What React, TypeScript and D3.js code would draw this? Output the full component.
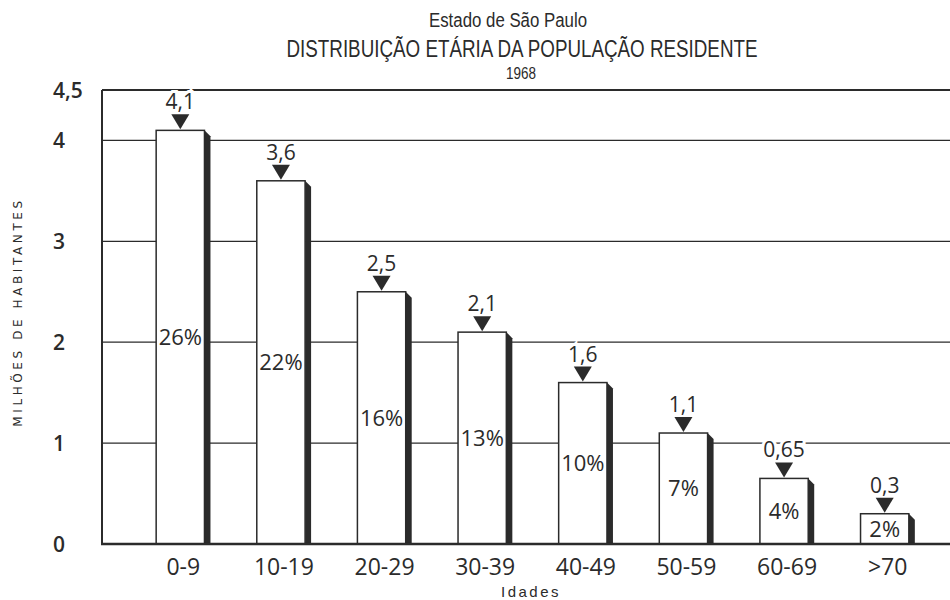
import React from 'react'
import { scaleBand, scaleLinear } from 'd3'

// faixas etárias e valores (milhões de habitantes)
const categories = ['0-9', '10-19', '20-29', '30-39', '40-49', '50-59', '60-69', '>70']
const values = [4.1, 3.6, 2.5, 2.1, 1.6, 1.1, 0.65, 0.3]
const valueLabels = ['4,1', '3,6', '2,5', '2,1', '1,6', '1,1', '0,65', '0,3']
const percentLabels = ['26%', '22%', '16%', '13%', '10%', '7%', '4%', '2%']
const yTicks = [0, 1, 2, 3, 4, 4.5]
const yTickLabels = ['0', '1', '2', '3', '4', '4,5']
const gridValues = [1, 2, 3, 4]

const W = 950
const H = 600
const left = 102
const right = 950
const ink = '#2b2b2b'
const numFont = '"Open Sans", "DejaVu Sans", sans-serif'
const narrowFont = '"Liberation Sans", "DejaVu Sans", sans-serif'

function App() {
  const y = scaleLinear().domain([0, 4.5]).range([544, 90])
  const x = scaleBand<string>()
    .domain(categories)
    .range([130, 935])
    .paddingInner(0.52)
    .paddingOuter(0.26)
  const bw = x.bandwidth()
  const shadow = 6

  return (
    <svg width={W} height={H} style={{ position: 'absolute', left: 0, top: 0, background: '#fff' }}>
      {/* título, comprimido para imitar a fonte condensada */}
      <g fill={ink} fontFamily={narrowFont} textAnchor="middle">
        <text x={508} y={27} fontSize={20} textLength={158} lengthAdjust="spacingAndGlyphs">
          Estado de São Paulo
        </text>
        <text x={522} y={57} fontSize={23} textLength={471} lengthAdjust="spacingAndGlyphs">
          DISTRIBUIÇÃO ETÁRIA DA  POPULAÇÃO RESIDENTE
        </text>
        <text x={521} y={79} fontSize={17} textLength={30} lengthAdjust="spacingAndGlyphs">
          1968
        </text>
      </g>

      {/* grade */}
      {gridValues.map(v => (
        <line key={v} x1={left} x2={right} y1={y(v)} y2={y(v)} stroke={ink} strokeWidth={1.2} />
      ))}
      <line x1={left} x2={right} y1={y(4.5)} y2={y(4.5)} stroke={ink} strokeWidth={2} />
      <line x1={left} x2={left} y1={y(4.5)} y2={y(0)} stroke={ink} strokeWidth={2} />

      {/* eixo y */}
      <g fill={ink} fontFamily={numFont} fontWeight={600} fontSize={21}>
        {yTicks.map((t, i) => (
          <text key={t} x={53} y={y(t)} dy="0.36em">{yTickLabels[i]}</text>
        ))}
      </g>
      <text
        transform={`translate(22,${312}) rotate(-90)`}
        textAnchor="middle"
        fill={ink}
        fontFamily='"DejaVu Sans", sans-serif'
        fontSize={12}
        letterSpacing={3.6}
      >
        MILHÕES DE HABITANTES
      </text>

      {/* barras */}
      {categories.map((c, i) => {
        const x0 = x(c) as number
        const top = y(values[i])
        const base = y(0)
        const cx = x0 + bw / 2
        return (
          <g key={c}>
            <polygon
              points={`${x0 + bw},${top} ${x0 + bw + shadow},${top + shadow} ${x0 + bw + shadow},${base} ${x0 + bw},${base}`}
              fill={ink}
            />
            <rect x={x0} y={top} width={bw} height={base - top} fill="#fff" stroke={ink} strokeWidth={1.5} />
            <text
              x={cx}
              y={top - 21}
              textAnchor="middle"
              fontFamily={numFont}
              fontWeight={500}
              fontSize={21}
              fill={ink}
              stroke="#fff"
              strokeWidth={6}
              paintOrder="stroke"
            >
              {valueLabels[i]}
            </text>
            <polygon
              points={`${cx - 9},${top - 16} ${cx + 9},${top - 16} ${cx},${top - 1}`}
              fill={ink}
            />
            <text
              x={cx}
              y={(top + base) / 2}
              dy="0.36em"
              textAnchor="middle"
              fontFamily={numFont}
              fontSize={22}
              fill={ink}
            >
              {percentLabels[i]}
            </text>
            <text x={cx + 3} y={575} textAnchor="middle" fontFamily={numFont} fontWeight={500} fontSize={23} fill={ink}>
              {c}
            </text>
          </g>
        )
      })}

      <line x1={left - 1} x2={right} y1={y(0)} y2={y(0)} stroke={ink} strokeWidth={2.5} />

      <text x={531} y={597} textAnchor="middle" fill={ink} fontFamily={narrowFont} fontSize={15} letterSpacing={2.5}>
        Idades
      </text>
    </svg>
  )
}

export default App
